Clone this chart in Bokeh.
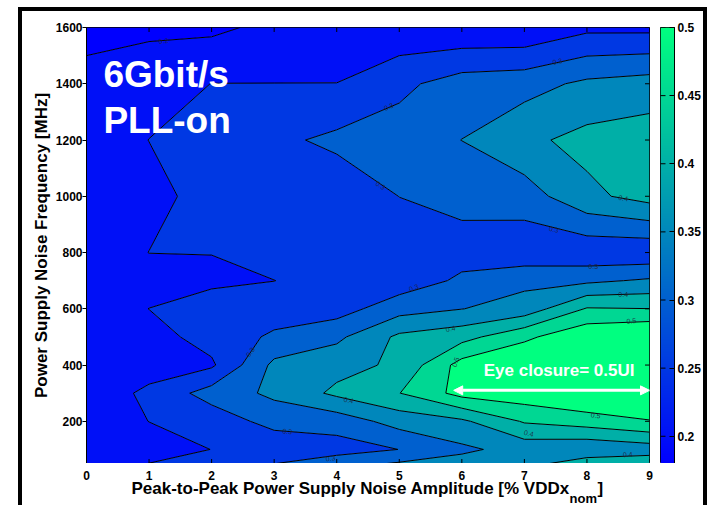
import numpy as np
from bokeh.plotting import figure
from bokeh.layouts import row, column
from bokeh.models import (LinearColorMapper, FixedTicker, Arrow, NormalHead, Range1d)
from bokeh.embed import file_html
from bokeh.resources import INLINE

# ---- data: eye closure [UI] on the measurement grid ----
amplitude = [0, 1, 2, 3, 4, 5, 6, 7, 8, 9]          # % VDDx_nom
frequency = [50, 100, 200, 300, 400, 500, 600, 700, 800, 1000, 1200, 1400, 1600]  # MHz
ec_50   = [0.22, 0.2505, 0.27, 0.299, 0.33, 0.355, 0.37, 0.38, 0.43, 0.437]
ec_100  = [0.22, 0.23, 0.2505, 0.2607, 0.2785, 0.3005, 0.34, 0.369, 0.358, 0.373]
ec_200  = [0.22, 0.2505, 0.27, 0.3185, 0.3215, 0.37, 0.391, 0.455, 0.474, 0.498]
ec_300  = [0.22, 0.26, 0.3215, 0.3605, 0.4105, 0.449, 0.5175, 0.53, 0.555, 0.54]
ec_400  = [0.22, 0.229, 0.242, 0.362, 0.383, 0.409, 0.52, 0.55, 0.57, 0.56]
ec_500  = [0.22, 0.23, 0.27, 0.308, 0.339, 0.41, 0.432, 0.489, 0.54, 0.56]
ec_600  = [0.22, 0.2505, 0.262, 0.276, 0.278, 0.33, 0.349, 0.37, 0.454, 0.4505]
ec_700  = [0.22, 0.23, 0.245, 0.2495, 0.27, 0.27, 0.309, 0.338, 0.34, 0.357]
ec_800  = [0.22, 0.2505, 0.2505, 0.27, 0.265, 0.27, 0.28, 0.265, 0.263, 0.26]
ec_1000 = [0.22, 0.235, 0.268, 0.27, 0.267, 0.3005, 0.315, 0.326, 0.388, 0.419]
ec_1200 = [0.22, 0.2505, 0.27, 0.289, 0.311, 0.323, 0.3505, 0.389, 0.415, 0.425]
ec_1400 = [0.22, 0.23, 0.2505, 0.2505, 0.2505, 0.288, 0.323, 0.331, 0.36, 0.372]
ec_1600 = [0.18, 0.19, 0.19, 0.212, 0.22, 0.212, 0.207, 0.206, 0.238, 0.237]

levels = [0.1, 0.2, 0.25, 0.3, 0.35, 0.4, 0.45, 0.5, 0.7]
cbar_ticks = [0.2, 0.25, 0.3, 0.35, 0.4, 0.45, 0.5]
cbar_low, cbar_high = 0.18, 0.5
x_ticks = [0, 1, 2, 3, 4, 5, 6, 7, 8, 9]
x_tick_labels = ["0", "1", "2", "3", "4", "5", "6", "7", "8", "9"]
y_ticks = [200, 400, 600, 800, 1000, 1200, 1400, 1600]

# contour-label texts placed along lines
clab_text = ["0.2", "0.3", "0.3", "0.3", "0.4", "0.3", "0.3", "0.4", "0.5", "0.3",
             "0.4", "0.3", "0.4", "0.3", "0.3", "0.5", "0.5", "0.4", "0.4"]
clab_x = [1.23, 4.83, 7.53, 4.7, 8.58, 7.47, 8.1, 8.58, 8.71, 5.23,
          5.82, 2.62, 4.19, 3.21, 3.9, 5.9, 8.14, 7.07, 8.65]
clab_y = [1553, 1318, 1479, 1039, 993, 882, 750, 650, 557, 675,
          529, 446, 275, 164, 68, 411, 221, 157, 82]
clab_ang = [5, 23, 13, -34, -10, -13, 0, 0, 5, 19,
            12, 54, -11, -5, 6, 70, -8, -12, 3]

FONT = "Liberation Sans"

z = np.array([ec_50, ec_100, ec_200, ec_300, ec_400, ec_500, ec_600, ec_700,
              ec_800, ec_1000, ec_1200, ec_1400, ec_1600])


def winter(t):
    t = min(max(t, 0.0), 1.0)
    return "#%02x%02x%02x" % (0, int(round(255 * t)), int(round(255 * (1 - 0.5 * t))))


palette = [winter(t) for t in np.linspace(0, 1, 256)]
fills = [winter((max(lv, cbar_low) - cbar_low) / (cbar_high - cbar_low)) for lv in levels[:-1]]

# geometry (pixels)
LEFT, FRAME_W, RIGHT_GAP, TOP, FRAME_H = 86, 563, 11, 27, 436
TOTAL_W, TOTAL_H = 708, 505
STRIP_H = TOTAL_H - TOP - FRAME_H

# ---------------- main contour figure ----------------
p = figure(width=LEFT + FRAME_W + RIGHT_GAP, height=TOP + FRAME_H, output_backend="svg",
           toolbar_location=None, x_range=Range1d(0, 9), y_range=Range1d(50, 1600),
           x_axis_location=None,
           min_border_left=LEFT, min_border_right=RIGHT_GAP, min_border_top=TOP, min_border_bottom=0)
p.background_fill_color = "white"
p.border_fill_color = "white"
p.grid.visible = False
p.outline_line_color = "black"
p.outline_line_width = 1

p.contour(amplitude, frequency, z, levels=levels, fill_color=fills,
          line_color="black", line_width=1)

p.text(x=clab_x, y=clab_y, text=clab_text, angle=clab_ang, angle_units="deg",
       text_font_size="7px", text_color="#202038", text_align="center",
       text_baseline="middle", text_alpha=0.85)

# inward ticks on top, bottom and right edges
p.scatter(x=x_ticks, y=[1600] * len(x_ticks), marker="dash", size=9, angle=np.pi / 2,
          line_color="black", line_width=1)
p.scatter(x=x_ticks, y=[50] * len(x_ticks), marker="dash", size=9, angle=np.pi / 2,
          line_color="black", line_width=1)
p.scatter(x=[9] * len(y_ticks), y=y_ticks, marker="dash", size=9,
          line_color="black", line_width=1)

# big annotations (anchored at text middle)
p.text(x=[0.27, 0.27], y=[1432, 1268], text=["6Gbit/s", "PLL-on"],
       text_font={"value": FONT}, text_font_style="bold", text_font_size="37px",
       text_color="white", text_baseline="middle", text_align="left")
p.text(x=[6.35], y=[379], text=["Eye closure= 0.5UI"],
       text_font={"value": FONT}, text_font_style="bold", text_font_size="17px",
       text_color="white", text_baseline="middle", text_align="left")
p.add_layout(Arrow(start=NormalHead(size=9, fill_color="white", line_color="white"),
                   end=NormalHead(size=9, fill_color="white", line_color="white"),
                   x_start=5.87, y_start=310, x_end=9.0, y_end=310,
                   line_color="white", line_width=3))

ax = p.yaxis
ax.major_label_text_font = FONT
ax.major_label_text_font_style = "bold"
ax.major_label_text_font_size = "12px"
ax.major_label_text_color = "black"
ax.axis_line_color = "black"
ax.major_tick_line_color = "black"
ax.minor_tick_line_color = None
ax.axis_label_text_font = FONT
ax.axis_label_text_font_style = "bold"
ax.axis_label_text_font_size = "17px"
ax.axis_label_text_color = "black"
ax.ticker = FixedTicker(ticks=y_ticks)
ax.major_tick_in = 0
ax.major_tick_out = 4
ax.major_label_standoff = 0
ax.axis_label = "Power Supply Noise Frequency [MHz]"
ax.axis_label_standoff = 2

# ---------------- colour bar figure ----------------
mapper = LinearColorMapper(palette=palette, low=cbar_low, high=cbar_high)
cb = figure(width=TOTAL_W - (LEFT + FRAME_W + RIGHT_GAP), height=TOP + FRAME_H,
            output_backend="svg", toolbar_location=None,
            x_range=Range1d(0, 1), y_range=Range1d(cbar_low, cbar_high),
            x_axis_location=None, y_axis_location="right",
            min_border_left=0, min_border_right=34, min_border_top=TOP, min_border_bottom=0)
cb.grid.visible = False
cb.outline_line_color = "black"
cb.border_fill_color = "white"
grad = np.linspace(cbar_low, cbar_high, 256).reshape(256, 1)
cb.image(image=[grad], x=0, y=cbar_low, dw=1, dh=cbar_high - cbar_low, color_mapper=mapper)
cb.scatter(x=[0] * len(cbar_ticks), y=cbar_ticks, marker="dash", size=10,
           line_color="black", line_width=1)
cb.yaxis.ticker = FixedTicker(ticks=cbar_ticks)
cb.yaxis.major_label_overrides = {t: ("%g" % t) for t in cbar_ticks}
cb.yaxis.major_tick_in = 5
cb.yaxis.major_tick_out = 0
cb.yaxis.minor_tick_line_color = None
cb.yaxis.major_label_standoff = 3
cb.yaxis.major_label_text_font = FONT
cb.yaxis.major_label_text_font_style = "bold"
cb.yaxis.major_label_text_font_size = "12px"
cb.yaxis.major_label_text_color = "black"
cb.yaxis.axis_line_color = "black"

# ---------------- x tick labels + x-axis title strip (same x scale as the plot) ----------------
px_per_unit = FRAME_W / 9.0
strip = figure(width=TOTAL_W, height=STRIP_H, output_backend="svg", toolbar_location=None,
               x_range=Range1d(-LEFT / px_per_unit, 9 + (TOTAL_W - LEFT - FRAME_W) / px_per_unit),
               y_range=Range1d(STRIP_H, 0),
               x_axis_location=None, y_axis_location=None,
               min_border_left=0, min_border_right=0, min_border_top=0, min_border_bottom=0)
strip.grid.visible = False
strip.outline_line_color = None
strip.border_fill_color = "white"
strip.background_fill_color = "white"
strip.text(x=x_ticks, y=[11.8] * len(x_ticks), text=x_tick_labels,
           text_font={"value": FONT}, text_font_style="bold", text_font_size="12px",
           text_color="black", text_baseline="middle", text_align="center")
strip.text(x=[(131 - LEFT) / px_per_unit, (597 - LEFT) / px_per_unit], y=[25, 25],
           text=["Peak-to-Peak Power Supply Noise Amplitude [% VDDx", "]"],
           text_font={"value": FONT}, text_font_style="bold", text_font_size="17px",
           text_color="black", text_baseline="middle", text_align="left")
strip.text(x=[(569 - LEFT) / px_per_unit], y=[34.5], text=["nom"],
           text_font={"value": FONT}, text_font_style="bold", text_font_size="13px",
           text_color="black", text_baseline="middle", text_align="left")

layout = column(row(p, cb), strip)
layout.stylesheets = [
    ":host { position: relative; }",
    ":host::after { content: ''; position: absolute; left: 18px; top: 7px; width: 689px;"
    " height: 498px; border-left: 4px solid black; border-top: 4px solid black;"
    " border-right: 4px solid black; box-sizing: border-box; pointer-events: none; z-index: 100; }",
]

open("out.html", "w").write(file_html(layout, INLINE))
